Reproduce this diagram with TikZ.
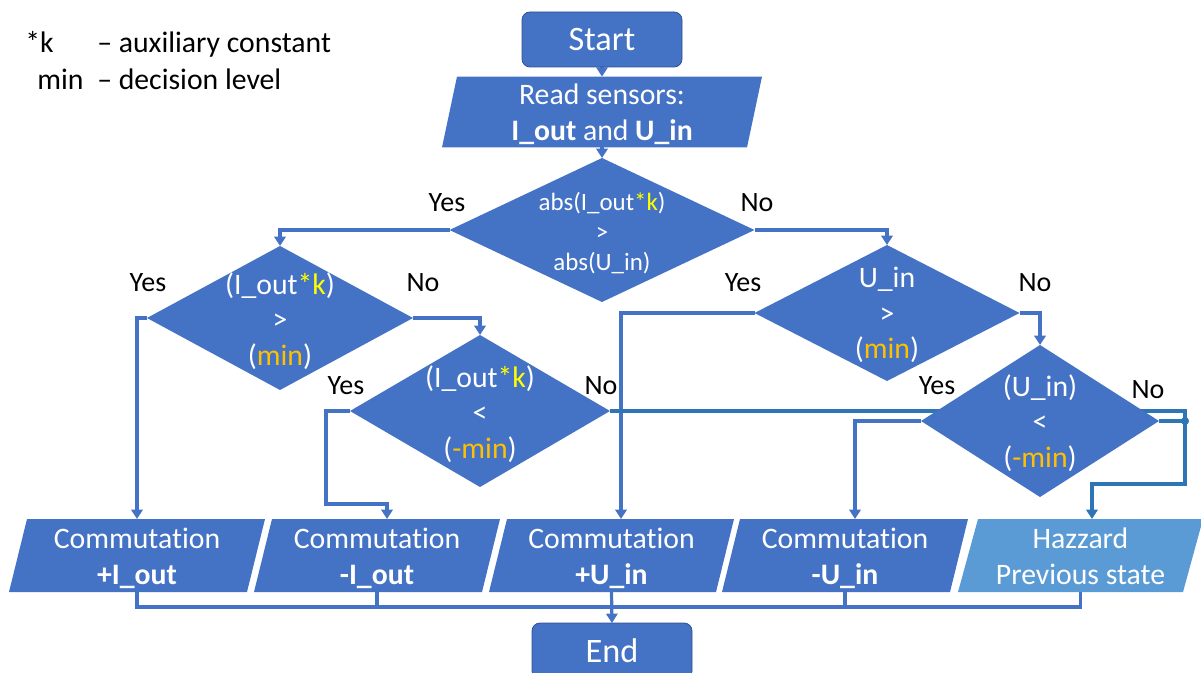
\documentclass[tikz,border=0pt]{standalone}
\usepackage{fontspec}
\setmainfont{Carlito}[Ligatures=NoCommon]
\usetikzlibrary{shapes.geometric,arrows.meta,calc}
\definecolor{mblue}{HTML}{4472C4}
\definecolor{lblue}{HTML}{5B9BD5}
\definecolor{hzline}{HTML}{2E75B6}
\definecolor{edgeblue}{HTML}{2F528F}
\definecolor{kyel}{HTML}{FFFF00}
\definecolor{morg}{HTML}{FFC000}
\pgfdeclarelayer{lines}
\pgfdeclarelayer{fills}
\pgfsetlayers{lines,fills,main}
\newcommand\parafill[3]{\fill[#3] ([xshift=#2]#1.north west) -- ([xshift=#2]#1.north east) -- ([xshift=-#2]#1.south east) -- ([xshift=-#2]#1.south west) -- cycle;}
\newcommand\kk{\textcolor{kyel}{*k}}
\newcommand\mn[1]{\textcolor{morg}{#1}}
\newcommand\lift{\rule{0pt}{21.3pt}}
\newcommand\dip{\rule[-5pt]{0pt}{5pt}}
\begin{document}
\begin{tikzpicture}[x=0.75pt,y=-0.75pt,
  dia/.style={diamond,fill=mblue,inner sep=0pt,outer sep=0pt},
  wtext/.style={text=white,align=center,inner sep=0pt},
  bigf/.style={font=\fontsize{22.3}{26.8}\selectfont},
  smallf/.style={font=\fontsize{18.7}{22.5}\selectfont},
  term/.style={rectangle,rounded corners=6pt,fill=mblue,draw=edgeblue,line width=0.6pt,text=white,inner sep=0pt,outer sep=0pt,font=\fontsize{25.7}{30}\selectfont,minimum width=120pt},
  parbox/.style={rectangle,inner sep=0pt,outer sep=0pt,text=white,align=center,bigf,minimum height=54.75pt},
  lbl/.style={inner sep=0pt,font=\fontsize{21}{25}\selectfont},
  leg/.style={inner sep=0pt,anchor=base west,font=\fontsize{22.3}{26.8}\selectfont},
  ln/.style={draw=mblue,line width=2.4pt},
  hz/.style={draw=hzline,line width=2.4pt},
  tip/.style={-{Triangle[width=8.5pt,length=7pt]}}]
\useasboundingbox (0,0) rectangle (1201,673);
\clip (0,0) rectangle (1201,673);

% legend
\node[leg] (lk) at (25,53) {*k};
\node[leg] (lkd) at (97,53) {– auxiliary constant};
\node[leg] (lm) at (37,90) {min};
\node[leg] (lmd) at (97,90) {– decision level};

% start / end
\node[term,minimum height=41.25pt] (start) at (602,39.5) {Start};
\node[term,minimum height=42pt] (end) at (612,651) {End};

% read sensors
\node[parbox,minimum width=228.75pt,minimum height=49.5pt] (read) at (602,112) {\lift Read sensors:\\\textbf{I\_out} and \textbf{U\_in}\dip};

% diamonds
\node[dia,minimum width=228.75pt,minimum height=108pt] (d1) at (602,230) {};
\node[wtext,smallf] (d1t) at (602,233) {abs(I\_out\kk)\\>\\abs(U\_in)};
\node[dia,minimum width=199.5pt,minimum height=108pt] (d2) at (280,318) {};
\node[wtext,bigf] (d2t) at (280,321) {(I\_out\kk)\\>\\(\mn{min})};
\node[dia,minimum width=198.75pt,minimum height=102pt] (d3) at (887,313) {};
\node[wtext,bigf] (d3t) at (887,315) {U\_in\\>\\(\mn{min})};
\node[dia,minimum width=195pt,minimum height=114pt] (d4) at (480,411) {};
\node[wtext,bigf] (d4t) at (480,414) {(I\_out\kk)\\<\\(\mn{-min})};
\node[dia,minimum width=178.5pt,minimum height=114pt] (d5) at (1040,421) {};
\node[wtext,bigf] (d5t) at (1040,423) {(U\_in)\\<\\(\mn{-min})};

% output boxes
\node[parbox,minimum width=178.5pt] (b1) at (137,555.5) {\lift Commutation\\\textbf{+I\_out}\dip};
\node[parbox,minimum width=171pt] (b2) at (377,555.5) {\lift Commutation\\\textbf{-I\_out}\dip};
\node[parbox,minimum width=170.25pt] (b3) at (611.5,555.5) {\lift Commutation\\\textbf{+U\_in}\dip};
\node[parbox,minimum width=171pt] (b4) at (845,555.5) {\lift Commutation\\\textbf{-U\_in}\dip};
\node[parbox,minimum width=168.75pt] (b5) at (1080.5,555.5) {\lift Hazzard\\Previous state\dip};

% yes / no labels
\node[lbl] (y1) at (447,203) {Yes};
\node[lbl] (n1) at (757,203) {No};
\node[lbl] (y2) at (148,283) {Yes};
\node[lbl] (n2) at (423,283) {No};
\node[lbl] (y3) at (743,283) {Yes};
\node[lbl] (n3) at (1035,283) {No};
\node[lbl] (y4) at (346,386) {Yes};
\node[lbl] (n4) at (601,386) {No};
\node[lbl] (y5) at (937,386) {Yes};
\node[lbl] (n5) at (1148,390) {No};

\coordinate (dot) at (1185,421);

\begin{pgfonlayer}{fills}
\parafill{read}{5.625pt}{mblue}
\parafill{b1}{6.75pt}{mblue}
\parafill{b2}{6.75pt}{mblue}
\parafill{b3}{6.75pt}{mblue}
\parafill{b4}{6.75pt}{mblue}
\parafill{b5}{7.5pt}{lblue}
\end{pgfonlayer}

\begin{pgfonlayer}{lines}
\draw[ln,tip] (start.south) -- (read.north);
\draw[ln,tip] (read.south) -- (d1.north);
\draw[ln,tip] (d1.west) -| (d2.north);
\draw[ln,tip] (d1.east) -| (d3.north);
\draw[ln,tip] (d2.west) -| (b1.north);
\draw[ln,tip] (d2.east) -| (d4.north);
\draw[ln,tip] (d4.west) -- ++(-24,0) -- ++(0,93) -| ([xshift=7.5pt]b2.north);
\draw[ln,tip] (d3.west) -| ([xshift=7.125pt]b3.north);
\draw[ln,tip] (d3.east) -| (d5.north);
\draw[ln,tip] (d5.west) -| ([xshift=7.5pt]b4.north);
\draw[hz] (d4.east) -| (dot);
\draw[hz] (d5.east) -- (dot);
\draw[hz,tip] (dot) -- ++(0,63) -| ([xshift=8.6pt]b5.north);
\fill[hzline] (dot) circle (3pt);
\draw[ln] (b1.south) -- ++(0,15) -| (b5.south);
\draw[ln] (b2.south) -- ++(0,15);
\draw[ln] (b4.south) -- ++(0,15);
\draw[ln,tip] (b3.south) -- (end.north);
\end{pgfonlayer}
\end{tikzpicture}
\end{document}
